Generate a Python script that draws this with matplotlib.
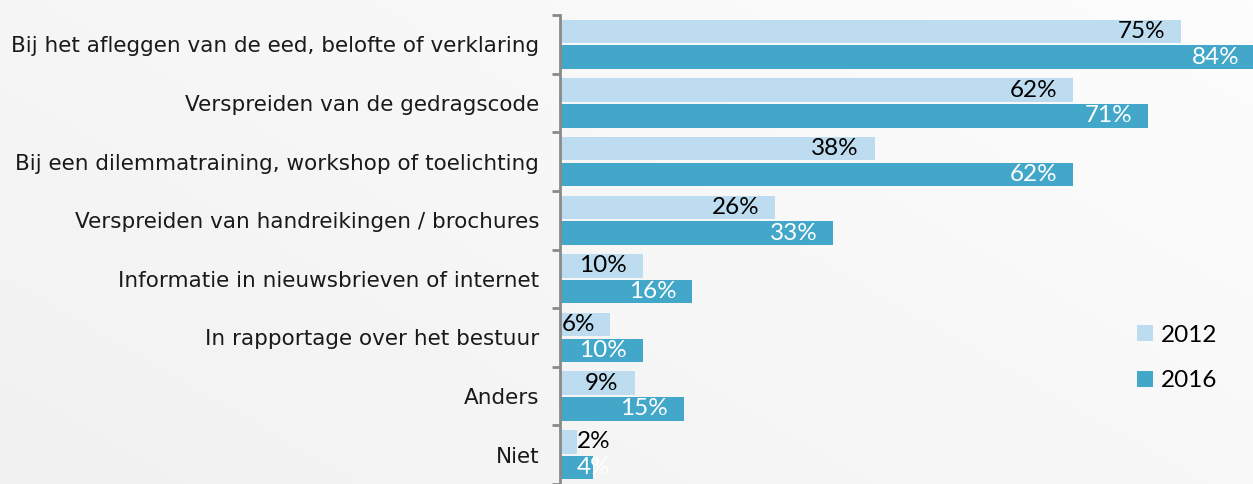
import numpy as np
import matplotlib
matplotlib.use("Agg")
import matplotlib.pyplot as plt
from matplotlib.colors import LinearSegmentedColormap

categories = [
    "Bij het afleggen van de eed, belofte of verklaring",
    "Verspreiden van de gedragscode",
    "Bij een dilemmatraining, workshop of toelichting",
    "Verspreiden van handreikingen / brochures",
    "Informatie in nieuwsbrieven of internet",
    "In rapportage over het bestuur",
    "Anders",
    "Niet",
]
values_2012 = [75, 62, 38, 26, 10, 6, 9, 2]
values_2016 = [84, 71, 62, 33, 16, 10, 15, 4]
series_names = ["2012", "2016"]

c2012 = "#BDDCEF"
c2016 = "#42A7C9"

W, H = 1253, 484
fig = plt.figure(figsize=(W / 100, H / 100), dpi=100)

# background gradient
bg = fig.add_axes([0, 0, 1, 1], zorder=-10)
xx, yy = np.meshgrid(np.linspace(0, 1, 300), np.linspace(0, 1, 120))
grad = 0.6 * xx + 0.4 * (1 - yy)
cmap = LinearSegmentedColormap.from_list("g", ["#f1f1f1", "#fdfdfd"])
bg.imshow(grad, cmap=cmap, aspect="auto", extent=[0, 1, 0, 1], origin="upper")
bg.axis("off")

ax = fig.add_axes([560 / W, 0, (W - 560) / W, 469 / H])
ax.set_facecolor("none")
n = len(categories)
y = np.arange(n)
ax.barh(y - 0.22, values_2012, height=0.40, color=c2012, edgecolor="none", label=series_names[0])
ax.barh(y + 0.22, values_2016, height=0.40, color=c2016, edgecolor="none", label=series_names[1])

ax.set_xlim(0, (W - 560) / 8.28)
ax.set_ylim(-0.5 + 469 / 59.0, -0.5)

font_val = "Lato"
fs_val = 17.5
for i in range(n):
    for v, off, col in [(values_2012[i], -0.22, "black"), (values_2016[i], 0.22, "white")]:
        if v < 5:
            ax.annotate(f"{v}%", (2, i + off), xytext=(0, 0), textcoords="offset pixels",
                        ha="left", va="center", fontsize=fs_val, color=col, family=font_val,
                        annotation_clip=False)
        elif v < 9:
            ax.annotate(f"{v}%", (0, i + off), xytext=(2, 0), textcoords="offset pixels",
                        ha="left", va="center", fontsize=fs_val, color=col, family=font_val,
                        annotation_clip=False)
        else:
            ax.annotate(f"{v}%", (v, i + off), xytext=(-16, 0), textcoords="offset pixels",
                        ha="right", va="center", fontsize=fs_val, color=col, family=font_val,
                        annotation_clip=False)

ax.set_yticks(y)
ax.set_yticklabels(categories, fontsize=15.5, color="#1a1a1a", family="DejaVu Sans")
ax.set_yticks(np.arange(-0.5, n, 1), minor=True)
ax.tick_params(axis="y", which="major", length=0, pad=15)
ax.tick_params(axis="y", which="minor", length=6, width=2, color="#8a8a8a")
ax.set_xticks([])
for s in ["top", "right", "bottom"]:
    ax.spines[s].set_visible(False)
ax.spines["left"].set_color("#8a8a8a")
ax.spines["left"].set_linewidth(2)

leg = fig.legend(loc="upper left", bbox_to_anchor=(1115 / W, 1 - 303 / H), frameon=False,
                 prop={"family": font_val, "size": fs_val}, handlelength=0.65, handleheight=0.65,
                 labelspacing=1.0, handletextpad=0.35)

fig.savefig("out.png", dpi=100)
